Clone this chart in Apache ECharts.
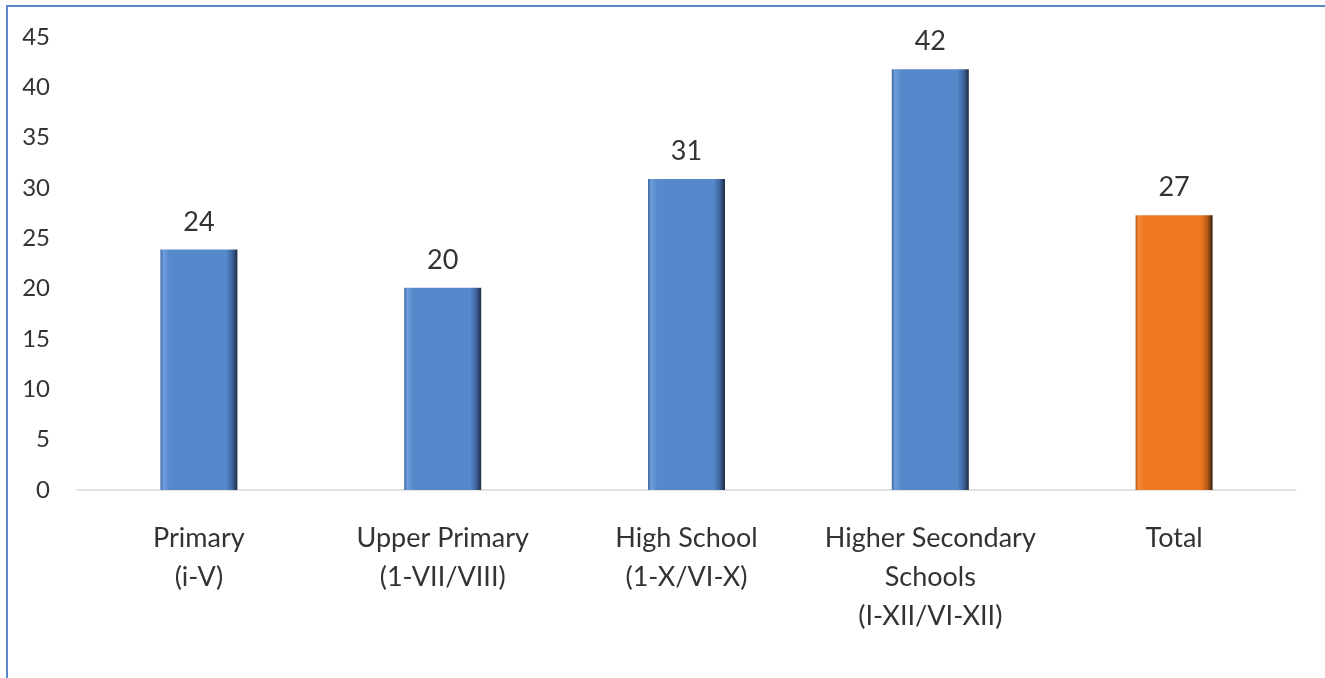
<!DOCTYPE html>
<html><head><meta charset="utf-8">
<script src="https://cdn.jsdelivr.net/npm/echarts@6/dist/echarts.min.js"></script>
<style>html,body{margin:0;padding:0;background:#fff}#c{width:1325px;height:678px}</style>
</head><body><div id="c"></div>
<script>
const categories = ['Primary\n(i-V)', 'Upper Primary\n(1-VII/VIII)', 'High School\n(1-X/VI-X)', 'Higher Secondary\nSchools\n(I-XII/VI-XII)', 'Total'];
const values = [23.9, 20.1, 30.9, 41.8, 27.3];
const labels = ['24', '20', '31', '42', '27'];
const yTicks = [0, 5, 10, 15, 20, 25, 30, 35, 40, 45];

function grad(light, mid, dark, edge) {
  return new echarts.graphic.LinearGradient(0, 0, 1, 0, [
    {offset: 0, color: dark},
    {offset: 0.04, color: light},
    {offset: 0.12, color: mid},
    {offset: 0.85, color: mid},
    {offset: 0.93, color: dark},
    {offset: 1, color: edge}
  ]);
}
const blue = grad('#6d9ddb', '#5689cb', '#3f67a0', '#1e2c44');
const orange = grad('#f58a36', '#ee7722', '#b85a18', '#3a2212');
const FONT = 'Lato, "Open Sans", sans-serif';

const chart = echarts.init(document.getElementById('c'));
chart.setOption({
  animation: false,
  textStyle: {fontFamily: FONT},
  grid: {left: 77, right: 29, top: 37, bottom: 188, containLabel: false},
  graphic: [{type: 'rect', shape: {x: 7, y: 6, width: 1340, height: 700}, style: {fill: 'none', stroke: '#5b87c6', lineWidth: 2}, silent: true}],
  xAxis: {
    type: 'category', data: categories,
    axisLine: {lineStyle: {color: '#d9d9d9', width: 1.5}},
    axisTick: {show: false},
    axisLabel: {interval: 0, hideOverlap: false, color: '#333333', fontSize: 27, lineHeight: 39, margin: 29, fontFamily: FONT}
  },
  yAxis: {
    type: 'value', min: 0, max: 45, interval: 5,
    axisLine: {show: false}, axisTick: {show: false}, splitLine: {show: false},
    axisLabel: {color: '#333333', fontSize: 24, margin: 27, fontFamily: FONT, formatter: v => yTicks.includes(v) ? String(v) : ''}
  },
  series: [{
    type: 'bar', barWidth: 77,
    data: values.map((v, i) => ({
      value: v,
      itemStyle: {color: i === 4 ? orange : blue},
      label: {formatter: labels[i]}
    })),
    label: {show: true, position: 'top', distance: 14, color: '#333333', fontSize: 27, fontFamily: FONT}
  }]
});
</script></body></html>
